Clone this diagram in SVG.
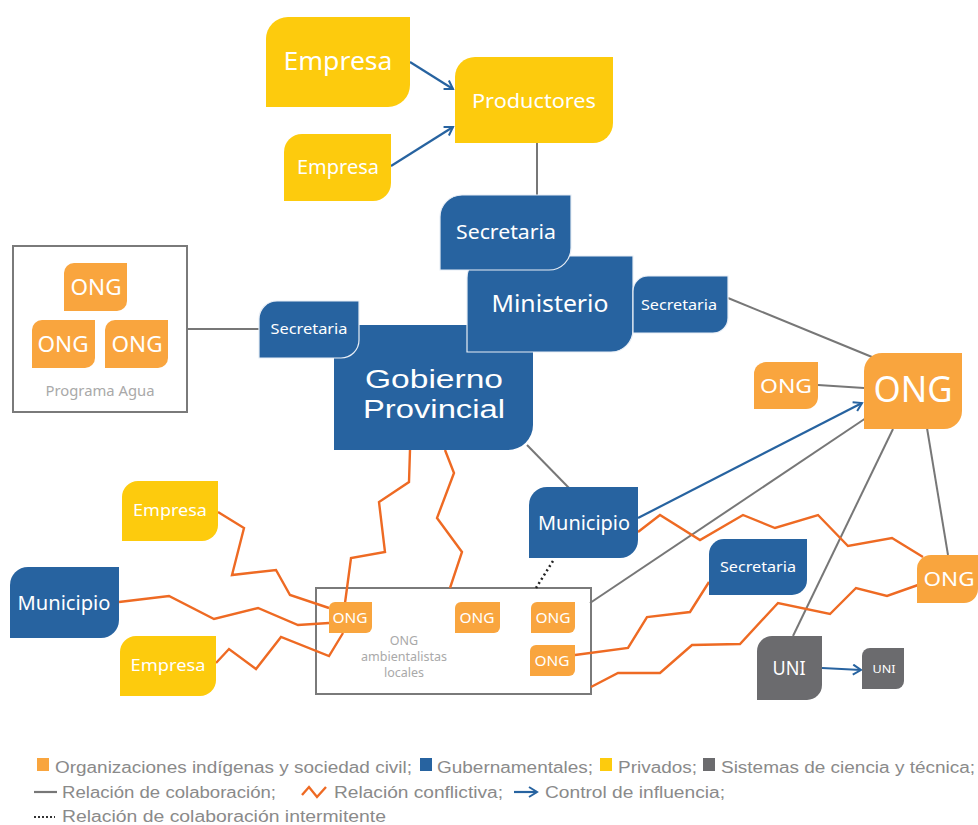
<svg xmlns="http://www.w3.org/2000/svg" width="978" height="825" viewBox="0 0 978 825">
<defs>
<style>
.o{fill:#F9A53E}.b{fill:#2763A0}.y{fill:#FDCB0D}.g{fill:#6B6B6E}
.ov{stroke:#E8EEF6;stroke-width:1.2}
.t{fill:#fff;font-family:"Noto Sans","Liberation Sans",sans-serif;text-anchor:middle}
.lt{fill:#A9A9A9;font-family:"Noto Sans","Liberation Sans",sans-serif;text-anchor:middle}
.lg{fill:#8A8A8A;font-family:"Liberation Sans","Noto Sans",sans-serif;font-size:16px}
.col{fill:none;stroke:#777;stroke-width:2}
.con{fill:none;stroke:#EE6A23;stroke-width:2.4;stroke-linejoin:miter}
.inf{fill:none;stroke:#2763A0;stroke-width:2.2}
.frame{fill:#fff;stroke:#7A7A7A;stroke-width:2}
</style>
<marker id="ah" viewBox="0 0 12 12" refX="10" refY="6" markerWidth="12" markerHeight="12" markerUnits="userSpaceOnUse" orient="auto">
<path d="M2,1 L10,6 L2,11" fill="none" stroke="#2763A0" stroke-width="2"/>
</marker>
</defs>
<rect width="978" height="825" fill="#fff"/>

<!-- frames -->
<g id="programa-agua">
<rect class="frame" x="13" y="246" width="174" height="166"/>
<text class="lt" x="100" y="396" font-size="14" textLength="109" lengthAdjust="spacingAndGlyphs">Programa Agua</text>
</g>
<g id="ong-ambientalistas">
<rect class="frame" x="316" y="588" width="275" height="106"/>
<text class="lt" font-size="12.5"><tspan x="404" y="645">ONG</tspan><tspan x="404" y="661" textLength="86" lengthAdjust="spacingAndGlyphs">ambientalistas</tspan><tspan x="404" y="677">locales</tspan></text>
</g>

<!-- connectors -->
<g id="connectors">
<line class="col" x1="537" y1="143" x2="537" y2="195"/>
<line class="col" x1="187" y1="329" x2="259" y2="329"/>
<line class="col" x1="728" y1="298" x2="872" y2="357"/>
<line class="col" x1="818" y1="385" x2="864" y2="388"/>
<line class="col" x1="527" y1="445" x2="569" y2="488"/>
<line class="col" x1="590" y1="603" x2="866" y2="418"/>
<line class="col" x1="893" y1="429" x2="793" y2="636"/>
<line class="col" x1="927" y1="428" x2="948" y2="555"/>
<line x1="553" y1="561" x2="536" y2="588" stroke="#222" stroke-width="2.5" stroke-dasharray="2 3"/>
<polyline class="con" points="410,450 409,482 379,502 385,552 351,558 345,603"/>
<polyline class="con" points="445,450 454,473 437,518 462,552 450,588"/>
<polyline class="con" points="218,512 244,528 232,575 276,570 290,595 329,608"/>
<polyline class="con" points="119,602 169,596 214,619 258,608 298,625 329,623"/>
<polyline class="con" points="216,663 229,649 256,669 281,637 329,656 343,633"/>
<polyline class="con" points="638,532 660,515 700,540 743,515 775,528 818,515 848,546 892,538 923,557"/>
<polyline class="con" points="575,655 628,648 647,617 690,612 709,582"/>
<polyline class="con" points="591,687 618,673 660,673 692,645 740,644 778,603 830,614 856,588 887,596 918,585"/>
<line class="inf" x1="410" y1="62" x2="453" y2="89" marker-end="url(#ah)"/>
<line class="inf" x1="391" y1="166" x2="453" y2="127" marker-end="url(#ah)"/>
<line class="inf" x1="638" y1="518" x2="862" y2="403" marker-end="url(#ah)"/>
<line class="inf" x1="822" y1="668" x2="861" y2="670" marker-end="url(#ah)"/>
</g>

<!-- nodes -->
<g id="empresa-1"><path class="y" d="M288,17 H410 V85 A22,22 0 0 1 388,107 H266 V39 A22,22 0 0 1 288,17 Z"/>
<text class="t" x="338" y="70" font-size="26" textLength="109" lengthAdjust="spacingAndGlyphs">Empresa</text></g>
<g id="productores"><path class="y" d="M475,57 H613 V123 A20,20 0 0 1 593,143 H455 V77 A20,20 0 0 1 475,57 Z"/>
<text class="t" x="534" y="108" font-size="20" textLength="124" lengthAdjust="spacingAndGlyphs">Productores</text></g>
<g id="empresa-2"><path class="y" d="M302,134 H391 V183 A18,18 0 0 1 373,201 H284 V152 A18,18 0 0 1 302,134 Z"/>
<text class="t" x="338" y="174" font-size="20" textLength="82" lengthAdjust="spacingAndGlyphs">Empresa</text></g>

<g id="gobierno-provincial"><path class="b" d="M359,325 H533 V425 A25,25 0 0 1 508,450 H334 V350 A25,25 0 0 1 359,325 Z"/>
<text x="434" y="388" fill="#fff" font-family="'Liberation Sans',sans-serif" font-size="25.5" text-anchor="middle" textLength="138" lengthAdjust="spacingAndGlyphs">Gobierno</text>
<text x="434" y="418" fill="#fff" font-family="'Liberation Sans',sans-serif" font-size="25.5" text-anchor="middle" textLength="142" lengthAdjust="spacingAndGlyphs">Provincial</text></g>
<g id="ministerio"><path class="b ov" d="M489,256 H633 V330 A22,22 0 0 1 611,352 H467 V278 A22,22 0 0 1 489,256 Z"/>
<text class="t" x="550" y="312" font-size="24" textLength="117" lengthAdjust="spacingAndGlyphs">Ministerio</text></g>
<g id="secretaria-top"><path class="b ov" d="M462,195 H571 V248 A22,22 0 0 1 549,270 H440 V217 A22,22 0 0 1 462,195 Z"/>
<text class="t" x="506" y="239" font-size="19" textLength="100" lengthAdjust="spacingAndGlyphs">Secretaria</text></g>
<g id="secretaria-left"><path class="b ov" d="M277,301 H359 V340 A18,18 0 0 1 341,358 H259 V319 A18,18 0 0 1 277,301 Z"/>
<text class="t" x="309" y="334" font-size="15" textLength="77" lengthAdjust="spacingAndGlyphs">Secretaria</text></g>
<g id="secretaria-right"><path class="b ov" d="M648,276 H728 V318 A15,15 0 0 1 713,333 H633 V291 A15,15 0 0 1 648,276 Z"/>
<text class="t" x="679" y="310" font-size="15" textLength="76" lengthAdjust="spacingAndGlyphs">Secretaria</text></g>

<g id="ong-pa-1"><path class="o" d="M74,263 H127 V301 A10,10 0 0 1 117,311 H64 V273 A10,10 0 0 1 74,263 Z"/>
<text class="t" x="96" y="295" font-size="22" textLength="51" lengthAdjust="spacingAndGlyphs">ONG</text></g>
<g id="ong-pa-2"><path class="o" d="M42,320 H95 V358 A10,10 0 0 1 85,368 H32 V330 A10,10 0 0 1 42,320 Z"/>
<text class="t" x="63" y="352" font-size="22" textLength="51" lengthAdjust="spacingAndGlyphs">ONG</text></g>
<g id="ong-pa-3"><path class="o" d="M115,320 H168 V358 A10,10 0 0 1 158,368 H105 V330 A10,10 0 0 1 115,320 Z"/>
<text class="t" x="137" y="352" font-size="22" textLength="51" lengthAdjust="spacingAndGlyphs">ONG</text></g>

<g id="ong-big"><path class="o" d="M882,353 H962 V411 A18,18 0 0 1 944,429 H864 V371 A18,18 0 0 1 882,353 Z"/>
<text class="t" x="913" y="402" font-size="36" textLength="79" lengthAdjust="spacingAndGlyphs">ONG</text></g>
<g id="ong-small"><path class="o" d="M766,362 H818 V397 A12,12 0 0 1 806,409 H754 V374 A12,12 0 0 1 766,362 Z"/>
<text class="t" x="786" y="393" font-size="20" textLength="52" lengthAdjust="spacingAndGlyphs">ONG</text></g>
<g id="municipio-center"><path class="b" d="M547,487 H638 V540 A18,18 0 0 1 620,558 H529 V505 A18,18 0 0 1 547,487 Z"/>
<text class="t" x="584" y="530" font-size="19" textLength="92" lengthAdjust="spacingAndGlyphs">Municipio</text></g>
<g id="empresa-left"><path class="y" d="M138,481 H218 V525 A16,16 0 0 1 202,541 H122 V497 A16,16 0 0 1 138,481 Z"/>
<text class="t" x="170" y="516" font-size="17" textLength="74" lengthAdjust="spacingAndGlyphs">Empresa</text></g>
<g id="municipio-left"><path class="b" d="M28,567 H119 V620 A18,18 0 0 1 101,638 H10 V585 A18,18 0 0 1 28,567 Z"/>
<text class="t" x="64" y="610" font-size="19" textLength="93" lengthAdjust="spacingAndGlyphs">Municipio</text></g>
<g id="empresa-bottom"><path class="y" d="M136,636 H216 V680 A16,16 0 0 1 200,696 H120 V652 A16,16 0 0 1 136,636 Z"/>
<text class="t" x="168" y="671" font-size="17" textLength="75" lengthAdjust="spacingAndGlyphs">Empresa</text></g>

<g id="ong-box-1"><path class="o" d="M335,602 H372 V627 A6,6 0 0 1 366,633 H329 V608 A6,6 0 0 1 335,602 Z"/>
<text class="t" x="350" y="623" font-size="15" textLength="35" lengthAdjust="spacingAndGlyphs">ONG</text></g>
<g id="ong-box-2"><path class="o" d="M461,602 H500 V627 A6,6 0 0 1 494,633 H455 V608 A6,6 0 0 1 461,602 Z"/>
<text class="t" x="477" y="623" font-size="15" textLength="35" lengthAdjust="spacingAndGlyphs">ONG</text></g>
<g id="ong-box-3"><path class="o" d="M537,602 H575 V627 A6,6 0 0 1 569,633 H531 V608 A6,6 0 0 1 537,602 Z"/>
<text class="t" x="553" y="623" font-size="15" textLength="35" lengthAdjust="spacingAndGlyphs">ONG</text></g>
<g id="ong-box-4"><path class="o" d="M536,645 H575 V670 A6,6 0 0 1 569,676 H530 V651 A6,6 0 0 1 536,645 Z"/>
<text class="t" x="552" y="666" font-size="15" textLength="35" lengthAdjust="spacingAndGlyphs">ONG</text></g>

<g id="ong-right"><path class="o" d="M931,555 H978 V589 A14,14 0 0 1 964,603 H917 V569 A14,14 0 0 1 931,555 Z"/>
<text class="t" x="949" y="586" font-size="20" textLength="51" lengthAdjust="spacingAndGlyphs">ONG</text></g>
<g id="secretaria-bottom"><path class="b" d="M724,539 H807 V580 A15,15 0 0 1 792,595 H709 V554 A15,15 0 0 1 724,539 Z"/>
<text class="t" x="758" y="572" font-size="15" textLength="76" lengthAdjust="spacingAndGlyphs">Secretaria</text></g>
<g id="uni"><path class="g" d="M772,636 H822 V685 A15,15 0 0 1 807,700 H757 V651 A15,15 0 0 1 772,636 Z"/>
<text class="t" x="789" y="675" font-size="20" textLength="33" lengthAdjust="spacingAndGlyphs">UNI</text></g>
<g id="uni-small"><path class="g" d="M870,648 H904 V681 A8,8 0 0 1 896,689 H862 V656 A8,8 0 0 1 870,648 Z"/>
<text class="t" x="884" y="673" font-size="11" textLength="23" lengthAdjust="spacingAndGlyphs">UNI</text></g>

<!-- legend -->
<g id="legend">
<rect x="37" y="758" width="12" height="13" fill="#F9A53E"/>
<text class="lg" x="55" y="773" textLength="357" lengthAdjust="spacingAndGlyphs">Organizaciones indígenas y sociedad civil;</text>
<rect x="420" y="758" width="12" height="13" fill="#2763A0"/>
<text class="lg" x="437" y="773" textLength="156" lengthAdjust="spacingAndGlyphs">Gubernamentales;</text>
<rect x="600" y="758" width="12" height="13" fill="#FDCB0D"/>
<text class="lg" x="618" y="773" textLength="79" lengthAdjust="spacingAndGlyphs">Privados;</text>
<rect x="703" y="758" width="12" height="13" fill="#6B6B6E"/>
<text class="lg" x="721" y="773" textLength="254" lengthAdjust="spacingAndGlyphs">Sistemas de ciencia y técnica;</text>
<line x1="34" y1="792" x2="57" y2="792" stroke="#777" stroke-width="2.2"/>
<text class="lg" x="62" y="798" textLength="214" lengthAdjust="spacingAndGlyphs">Relación de colaboración;</text>
<polyline points="302,795 309,787 317,797 326,787" fill="none" stroke="#EE6A23" stroke-width="2.4"/>
<text class="lg" x="334" y="798" textLength="169" lengthAdjust="spacingAndGlyphs">Relación conflictiva;</text>
<line x1="514" y1="792" x2="537" y2="792" class="inf" marker-end="url(#ah)"/>
<text class="lg" x="545" y="798" textLength="180" lengthAdjust="spacingAndGlyphs">Control de influencia;</text>
<line x1="34" y1="817" x2="55" y2="817" stroke="#333" stroke-width="2" stroke-dasharray="2 2"/>
<text class="lg" x="62" y="822" textLength="324" lengthAdjust="spacingAndGlyphs">Relación de colaboración intermitente</text>
</g>
</svg>
